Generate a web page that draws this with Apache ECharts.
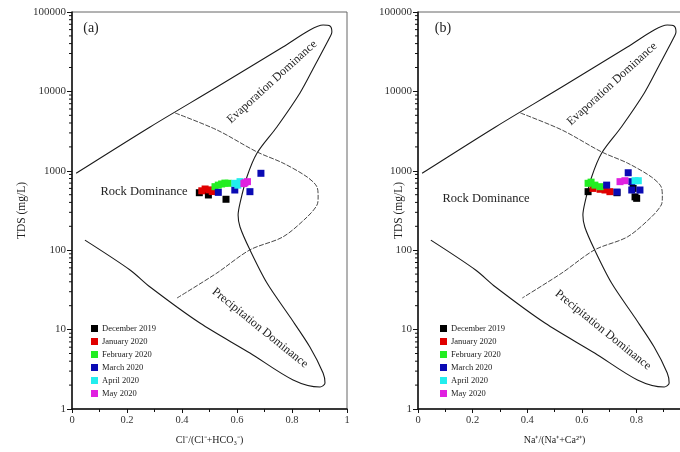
<!DOCTYPE html>
<html>
<head>
<meta charset="utf-8">
<script src="https://cdn.jsdelivr.net/npm/echarts@6/dist/echarts.min.js"></script>
<style>html,body{margin:0;padding:0;background:#fff}#c{width:680px;height:452px}</style>
</head>
<body>
<div id="c"></div>
<script>
// ---- data ----
const seriesNames = ['December 2019','January 2020','February 2020','March 2020','April 2020','May 2020'];
const seriesColors = ['#000000','#e00000','#22ee22','#0a0ab4','#22eeee','#e020e0'];
const xTicksLabels = ['0','0.2','0.4','0.6','0.8','1'];
const yTickLabels = ['1','10','100','1000','10000','100000'];
const yMinorTicks = [2,3,4,5,6,7,8,9,20,30,40,50,60,70,80,90,200,300,400,500,600,700,800,900,2000,3000,4000,5000,6000,7000,8000,9000,20000,30000,40000,50000,60000,70000,80000,90000];

// Gibbs boundary (x ratio, TDS)
const outerBoundary = [[0.015,930],[0.284,3565],[0.527,11350],[0.767,36220],[0.865,59300],[0.913,68550],[0.938,66700],[0.945,56000],[0.938,48400],[0.884,21500],[0.829,9550],[0.745,3565],[0.673,1675],[0.636,836],[0.611,393],[0.604,277],[0.611,196],[0.647,101],[0.709,38.6],[0.793,14.4],[0.865,6.04],[0.913,2.84],[0.920,2.12],[0.902,1.89],[0.804,2.32],[0.647,5.07],[0.465,12.1],[0.284,34.4],[0.211,56.4],[0.047,134]];
const innerBoundary = [[0.375,5350],[0.527,3270],[0.673,1726],[0.767,1253],[0.855,836],[0.891,625],[0.895,468],[0.891,371],[0.855,262],[0.767,147],[0.647,101],[0.527,51.6],[0.382,25]];

// panel (a): Cl/(Cl+HCO3) vs TDS
const aDec = [[0.463,530],[0.496,496],[0.560,438]];
const aJan = [[0.472,560],[0.484,590],[0.499,575],[0.510,548]];
const aFeb = [[0.520,631],[0.532,660],[0.544,682],[0.556,700],[0.568,696]];
const aMar = [[0.532,535],[0.592,573],[0.647,546],[0.687,930]];
const aApr = [[0.592,696],[0.603,660],[0.611,730]];
const aMay = [[0.625,690],[0.629,708],[0.638,730]];
// panel (b): Na/(Na+Ca) vs TDS
const bDec = [[0.623,546],[0.729,530],[0.788,600],[0.795,470],[0.801,450]];
const bJan = [[0.641,600],[0.667,585],[0.685,573],[0.703,546]];
const bFeb = [[0.623,696],[0.634,720],[0.648,660],[0.667,631]];
const bMar = [[0.691,660],[0.729,540],[0.770,945],[0.783,730],[0.783,573],[0.813,573]];
const bApr = [[0.795,750],[0.807,750]];
const bMay = [[0.740,730],[0.758,750]];

const panelA = [aDec,aJan,aFeb,aMar,aApr,aMay];
const panelB = [bDec,bJan,bFeb,bMar,bApr,bMay];

// ---- chart ----
const SERIF = 'Liberation Serif';
const chart = echarts.init(document.getElementById('c'), null, {renderer:'canvas'});

function xAxisDef(gi, name){
  return {
    gridIndex: gi, type:'value', min:0, max:1, interval:0.2,
    name: name, nameLocation:'middle', nameGap: 26, nameMoveOverlap:false,
    nameTextStyle:{fontFamily:SERIF, fontSize:10, color:'#222'},
    axisLine:{show:true, onZero:false, lineStyle:{color:'#111', width:1.5}},
    axisTick:{show:true, length:4, lineStyle:{color:'#111'}},
    minorTick:{show:true, splitNumber:2, length:3, lineStyle:{color:'#111'}},
    splitLine:{show:false},
    axisLabel:{fontFamily:SERIF, fontSize:10.5, color:'#333', margin:6,
      formatter: v => xTicksLabels[Math.round(v/0.2)]}
  };
}
function yAxisDef(gi, gap){
  return {
    gridIndex: gi, type:'log', logBase:10, min:1, max:100000,
    name:'TDS (mg/L)', nameLocation:'middle', nameGap: gap, nameRotate: 90, nameMoveOverlap:false,
    nameTextStyle:{fontFamily:SERIF, fontSize:11.5, color:'#222'},
    axisLine:{show:true, lineStyle:{color:'#111', width:1.5}},
    axisTick:{show:true, length:5, lineStyle:{color:'#111'}},
    splitLine:{show:false},
    axisLabel:{fontFamily:SERIF, fontSize:11, color:'#333', margin:6,
      formatter: v => yTickLabels[Math.round(Math.log10(v))]}
  };
}

const series = [];
[0,1].forEach(gi => {
  series.push({type:'line', name:'outer'+gi, xAxisIndex:gi, yAxisIndex:gi, data: outerBoundary,
    showSymbol:false, smooth:0.3, silent:true, lineStyle:{color:'#1a1a1a', width:1.1}, z:2});
  series.push({type:'line', name:'inner'+gi, xAxisIndex:gi, yAxisIndex:gi, data: innerBoundary,
    showSymbol:false, smooth:0.3, silent:true, lineStyle:{color:'#333', width:0.9, type:[5,1.5]}, z:2});
  series.push({type:'custom', name:'minor'+gi, xAxisIndex:gi, yAxisIndex:gi, silent:true, clip:false,
    data: yMinorTicks.map(v => [0, v]),
    renderItem: (params, api) => {
      const p = api.coord([0, api.value(1)]);
      return {type:'line', shape:{x1:p[0]-3, y1:p[1], x2:p[0], y2:p[1]}, style:{stroke:'#111', lineWidth:1}};
    }, z:3});
  const pts = gi === 0 ? panelA : panelB;
  seriesNames.forEach((nm, i) => {
    series.push({type:'scatter', name:nm, xAxisIndex:gi, yAxisIndex:gi, data: pts[i],
      symbol:'rect', symbolSize:7, itemStyle:{color:seriesColors[i], opacity:1}, z:5});
  });
});

function legendDef(left){
  return {
    left: left, top: 319, orient:'vertical', icon:'rect', itemWidth:7, itemHeight:7, itemGap:4,
    data: seriesNames.map((n,i) => ({name:n, itemStyle:{color:seriesColors[i], opacity:1}})),
    textStyle:{fontFamily:SERIF, fontSize:8.5, color:'#222', padding:[0,0,0,-1], lineHeight:9},
    selectedMode:false
  };
}

function txt(x, y, text, size, rot){
  return {type:'text', x:x, y:y, rotation: rot || 0, silent:true, z:10,
    style:{text:text, font: size + 'px "' + SERIF + '"', fill:'#222', align:'center', verticalAlign:'middle'}};
}

const option = {
  backgroundColor:'#fff',
  animation:false,
  grid:[
    {left:72, top:12, width:275, height:397, outerBoundsMode:'none', containLabel:false, show:true, borderColor:'#666', borderWidth:1, backgroundColor:'transparent'},
    {left:418, top:12, width:273, height:397, outerBoundsMode:'none', containLabel:false, show:true, borderColor:'#666', borderWidth:1, backgroundColor:'transparent'}
  ],
  xAxis:[xAxisDef(0, 'Cl\u207B/(Cl\u207B+HCO\u2083\u207B)'), xAxisDef(1, 'Na\u207A/(Na\u207A+Ca\u00B2\u207A)')],
  yAxis:[yAxisDef(0, 44), yAxisDef(1, 13)],
  legend:[legendDef(86), legendDef(435)],
  series: series,
  graphic:[
    txt(91, 28, '(a)', 14),
    txt(144, 192, 'Rock Dominance', 12.5),
    txt(272, 82, 'Evaporation Dominance', 12, 0.74),
    txt(260, 328, 'Precipitation Dominance', 12, -0.68),
    txt(443, 28, '(b)', 14),
    txt(486, 199, 'Rock Dominance', 12.5),
    txt(612, 84, 'Evaporation Dominance', 12, 0.74),
    txt(603, 330, 'Precipitation Dominance', 12, -0.68)
  ]
};
chart.setOption(option);
</script>
</body>
</html>
